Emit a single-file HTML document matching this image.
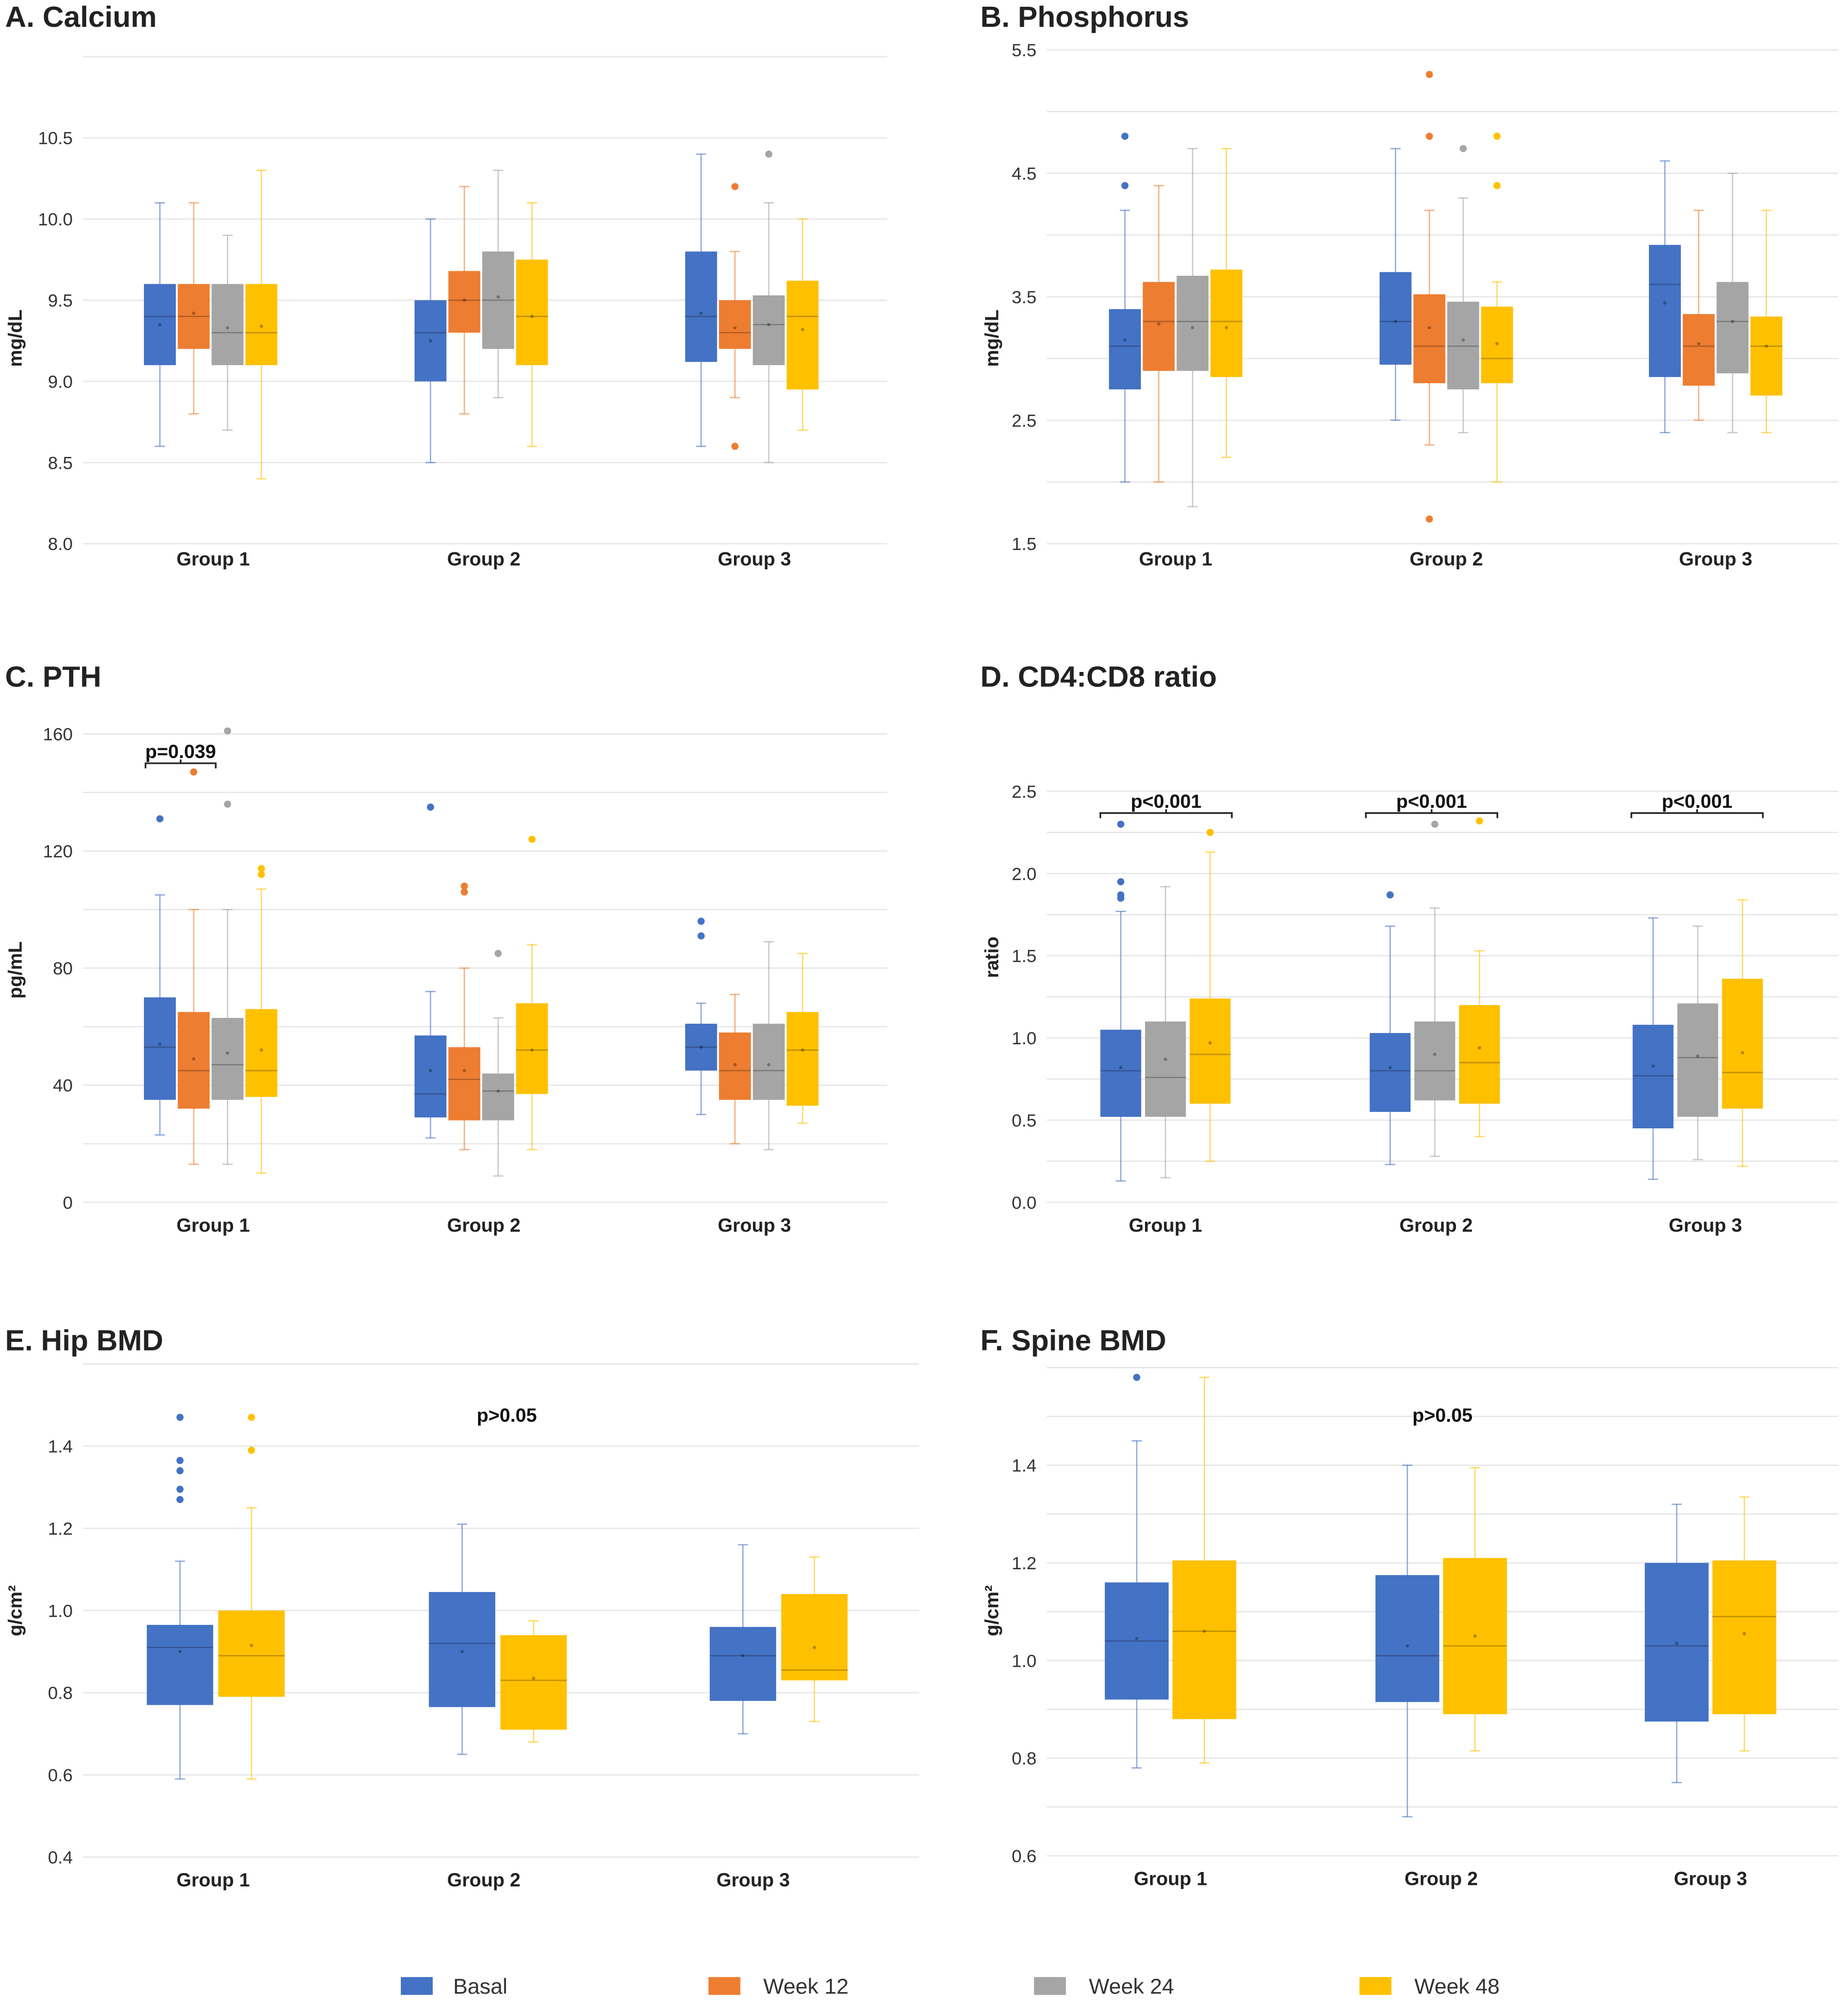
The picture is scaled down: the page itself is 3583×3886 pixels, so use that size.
<!DOCTYPE html>
<html><head><meta charset="utf-8"><style>
html,body{margin:0;padding:0;background:#fff;}
svg{display:block;font-family:"Liberation Sans",Arial,sans-serif;}
</style></head><body>
<svg id="fig" xmlns="http://www.w3.org/2000/svg" width="3583" height="3886" viewBox="0 0 1447.7 1570.1">
<rect x="0" y="0" width="1447.7" height="1570.1" fill="#fff"/>
<g id="legend">
  <g><rect x="314" y="1549" width="25" height="14" fill="#4472c4"/><text x="355" y="1562" font-size="17" fill="#333">Basal</text></g>
  <g><rect x="555" y="1549" width="25" height="14" fill="#ed7d31"/><text x="598" y="1562" font-size="17" fill="#333">Week 12</text></g>
  <g><rect x="810" y="1549" width="25" height="14" fill="#a5a5a5"/><text x="853" y="1562" font-size="17" fill="#333">Week 24</text></g>
  <g><rect x="1065" y="1549" width="25" height="14" fill="#ffc000"/><text x="1108" y="1562" font-size="17" fill="#333">Week 48</text></g>
</g>
</svg>
<script>
const NS="http://www.w3.org/2000/svg";
const svg=document.getElementById('fig');
const COL={basal:"#4472c4",w12:"#ed7d31",w24:"#a5a5a5",w48:"#ffc000"};
const groups=["Group 1","Group 2","Group 3"];

const caBasal=[[8.6,9.1,9.4,9.6,10.1,9.35],[8.5,9.0,9.3,9.5,10.0,9.25],[8.6,9.12,9.4,9.8,10.4,9.42]];
const caW12=[[8.8,9.2,9.4,9.6,10.1,9.42],[8.8,9.3,9.5,9.68,10.2,9.5],[8.9,9.2,9.3,9.5,9.8,9.33]];
const caW24=[[8.7,9.1,9.3,9.6,9.9,9.33],[8.9,9.2,9.5,9.8,10.3,9.52],[8.5,9.1,9.35,9.53,10.1,9.35]];
const caW48=[[8.4,9.1,9.3,9.6,10.3,9.34],[8.6,9.1,9.4,9.75,10.1,9.4],[8.7,8.95,9.4,9.62,10.0,9.32]];
const caOut={basal:[[],[],[]],w12:[[],[],[10.2,8.6]],w24:[[],[],[10.4]],w48:[[],[],[]]};

const phBasal=[[2.0,2.75,3.1,3.4,4.2,3.15],[2.5,2.95,3.3,3.7,4.7,3.3],[2.4,2.85,3.6,3.92,4.6,3.45]];
const phW12=[[2.0,2.9,3.3,3.62,4.4,3.28],[2.3,2.8,3.1,3.52,4.2,3.25],[2.5,2.78,3.1,3.36,4.2,3.12]];
const phW24=[[1.8,2.9,3.3,3.67,4.7,3.25],[2.4,2.75,3.1,3.46,4.3,3.15],[2.4,2.88,3.3,3.62,4.5,3.3]];
const phW48=[[2.2,2.85,3.3,3.72,4.7,3.25],[2.0,2.8,3.0,3.42,3.62,3.12],[2.4,2.7,3.1,3.34,4.2,3.1]];
const phOut={basal:[[4.8,4.4],[],[]],w12:[[],[5.3,4.8,1.7],[]],w24:[[],[4.7],[]],w48:[[],[4.8,4.4],[]]};

const pthBasal=[[23,35,53,70,105,54],[22,29,37,57,72,45],[30,45,53,61,68,53]];
const pthW12=[[13,32,45,65,100,49],[18,28,42,53,80,45],[20,35,45,58,71,47]];
const pthW24=[[13,35,47,63,100,51],[9,28,38,44,63,38],[18,35,45,61,89,47]];
const pthW48=[[10,36,45,66,107,52],[18,37,52,68,88,52],[27,33,52,65,85,52]];
const pthOut={basal:[[131],[135],[96,91]],w12:[[147],[108,106],[]],w24:[[161,136],[85],[]],w48:[[114,112],[124],[]]};

const cdBasal=[[0.13,0.52,0.8,1.05,1.77,0.82],[0.23,0.55,0.8,1.03,1.68,0.82],[0.14,0.45,0.77,1.08,1.73,0.83]];
const cdW24=[[0.15,0.52,0.76,1.1,1.92,0.87],[0.28,0.62,0.8,1.1,1.79,0.9],[0.26,0.52,0.88,1.21,1.68,0.89]];
const cdW48=[[0.25,0.6,0.9,1.24,2.13,0.97],[0.4,0.6,0.85,1.2,1.53,0.94],[0.22,0.57,0.79,1.36,1.84,0.91]];
const cdOut={basal:[[2.3,1.95,1.87,1.85],[1.87],[]],w24:[[],[2.3],[]],w48:[[2.25],[2.32],[]]};

const hipBasal=[[0.59,0.77,0.91,0.965,1.12,0.9],[0.65,0.765,0.92,1.045,1.21,0.9],[0.7,0.78,0.89,0.96,1.16,0.89]];
const hipW48=[[0.59,0.79,0.89,1.0,1.25,0.915],[0.68,0.71,0.83,0.94,0.975,0.835],[0.73,0.83,0.855,1.04,1.13,0.91]];
const hipOut={basal:[[1.47,1.365,1.34,1.295,1.27],[],[]],w48:[[1.47,1.39],[],[]]};

const spBasal=[[0.78,0.92,1.04,1.16,1.45,1.045],[0.68,0.915,1.01,1.175,1.40,1.03],[0.75,0.875,1.03,1.2,1.32,1.035]];
const spW48=[[0.79,0.88,1.06,1.205,1.58,1.06],[0.815,0.89,1.03,1.21,1.395,1.05],[0.815,0.89,1.09,1.205,1.335,1.055]];
const spOut={basal:[[1.58],[],[]],w48:[[],[],[]]};

const caTicks=["8.0","8.5","9.0","9.5","10.0","10.5"];
const phTicks=["1.5","2.5","3.5","4.5","5.5"];
const pthTicks=["0","40","80","120","160"];
const cdTicks=["0.0","0.5","1.0","1.5","2.0","2.5"];
const hipTicks=["0.4","0.6","0.8","1.0","1.2","1.4"];
const spTicks=["0.6","0.8","1.0","1.2","1.4"];

function el(tag,attrs,parent,text){const e=document.createElementNS(NS,tag);for(const k in attrs)e.setAttribute(k,attrs[k]);if(text!==undefined)e.textContent=text;(parent||svg).appendChild(e);return e;}

function panel(cfg){
  const g=el('g',{});
  
  
  const y=v=>cfg.y0+(v-cfg.v0)*(cfg.y1-cfg.y0)/(cfg.v1-cfg.v0);
  for(let v=cfg.v0;v<=cfg.gridTop+1e-9;v+=cfg.gridStep){
    const gl=el('line',{x1:cfg.xl,x2:cfg.xr,y1:y(v),y2:y(v),stroke:"#e6e6e6","stroke-width":1},g);
    
    
  }
  const title=el('text',{x:cfg.tx,y:cfg.ty,"font-size":23,fill:"#222","font-weight":"600"},g,cfg.title);
  
  
  cfg.ticks.forEach(t=>{
    const tt=el('text',{x:cfg.xl-8,y:y(parseFloat(t))+5,"font-size":14,"text-anchor":"end",fill:"#333"},g,t);
    
    
  });
  const yl=el('text',{x:0,y:0,"font-size":15,"font-weight":"bold","text-anchor":"middle",fill:"#222",transform:`translate(${cfg.ylx},${cfg.yly}) rotate(-90)`},g,cfg.ylabel);
  
  
  groups.forEach((gn,gi)=>{
    const gc=cfg.gc[gi];
    const lx=cfg.labX?cfg.labX[gi]:gc+cfg.labOff;
    const gt=el('text',{x:lx,y:cfg.y0+cfg.labDy,"font-size":15,"font-weight":"bold","text-anchor":"middle",fill:"#222"},g,gn);
    
    
    const n=cfg.series.length;
    cfg.series.forEach((s,si)=>{
      const d=s.data[gi];
      const cx=gc+(si-(n-1)/2)*cfg.step;
      const w=cfg.bw;
      const c=COL[s.key];
      const bg=el('g',{},g);
      
      
      el('line',{x1:cx,x2:cx,y1:y(d[0]),y2:y(d[4]),stroke:c,"stroke-opacity":0.6,"stroke-width":1},bg);
      el('line',{x1:cx-4,x2:cx+4,y1:y(d[0]),y2:y(d[0]),stroke:c,"stroke-opacity":0.6,"stroke-width":1},bg);
      el('line',{x1:cx-4,x2:cx+4,y1:y(d[4]),y2:y(d[4]),stroke:c,"stroke-opacity":0.6,"stroke-width":1},bg);
      el('rect',{x:cx-w/2,y:y(d[3]),width:w,height:y(d[1])-y(d[3]),fill:c},bg);
      el('line',{x1:cx-w/2,x2:cx+w/2,y1:y(d[2]),y2:y(d[2]),stroke:"#000","stroke-opacity":0.25,"stroke-width":1},bg);
      el('circle',{cx:cx,cy:y(d[5]),r:1.3,fill:"#000","fill-opacity":0.3},bg);
      (s.out[gi]||[]).forEach(o=>{
        const oc=el('circle',{cx:cx,cy:y(o),r:2.8,fill:c},g);
        
        
      });
    });
  });
  (cfg.notes||[]).forEach(nt=>{
    const ng=el('g',{},g);
    
    
    if(nt.x1!==undefined){
      const mid=(nt.x1+nt.x2)/2;
      el('path',{d:`M${nt.x1} ${nt.y+4}V${nt.y}H${nt.x2}V${nt.y+4}M${mid} ${nt.y}v-3`,fill:"none",stroke:"#222","stroke-width":1.3},ng);
      el('text',{x:mid,y:nt.y-4,"font-size":15,"font-weight":"bold","text-anchor":"middle",fill:"#111"},ng,nt.t);
    } else {
      el('text',{x:nt.x,y:nt.y,"font-size":15,"font-weight":"bold","text-anchor":"middle",fill:"#111"},ng,nt.t);
    }
  });
}

panel({name:"panel-a-calcium",title:"A. Calcium",tx:4,ty:21,xl:65,xr:695,y0:426,y1:108,v0:8.0,v1:10.5,gridStep:0.5,gridTop:11.0,ticks:caTicks,ylabel:"mg/dL",ylx:17,yly:265,gc:[165,377,589],labOff:2,labDy:17,step:26.5,bw:25,
  series:[{key:"basal",data:caBasal,out:caOut.basal},{key:"w12",data:caW12,out:caOut.w12},{key:"w24",data:caW24,out:caOut.w24},{key:"w48",data:caW48,out:caOut.w48}]});
panel({name:"panel-b-phosphorus",title:"B. Phosphorus",tx:768,ty:21,xl:820,xr:1440,y0:426,y1:39,v0:1.5,v1:5.5,gridStep:0.5,gridTop:5.5,ticks:phTicks,ylabel:"mg/dL",ylx:782,yly:265,gc:[921,1133,1344],labOff:0,labDy:17,step:26.5,bw:25,
  series:[{key:"basal",data:phBasal,out:phOut.basal},{key:"w12",data:phW12,out:phOut.w12},{key:"w24",data:phW24,out:phOut.w24},{key:"w48",data:phW48,out:phOut.w48}]});
panel({name:"panel-c-pth",title:"C. PTH",tx:4,ty:538,xl:65,xr:695,y0:942,y1:575,v0:0,v1:160,gridStep:20,gridTop:160,ticks:pthTicks,ylabel:"pg/mL",ylx:17,yly:760,gc:[165,377,589],labOff:2,labDy:23,step:26.5,bw:25,
  series:[{key:"basal",data:pthBasal,out:pthOut.basal},{key:"w12",data:pthW12,out:pthOut.w12},{key:"w24",data:pthW24,out:pthOut.w24},{key:"w48",data:pthW48,out:pthOut.w48}],
  notes:[{x1:114,x2:169,y:598,t:"p=0.039"}]});
panel({name:"panel-d-cd4-cd8",title:"D. CD4:CD8 ratio",tx:768,ty:538,xl:820,xr:1440,y0:942,y1:620,v0:0,v1:2.5,gridStep:0.25,gridTop:2.5,ticks:cdTicks,ylabel:"ratio",ylx:782,yly:750,gc:[913,1124,1330],labX:[913,1125,1336],labOff:0,labDy:23,step:35,bw:32,
  series:[{key:"basal",data:cdBasal,out:cdOut.basal},{key:"w24",data:cdW24,out:cdOut.w24},{key:"w48",data:cdW48,out:cdOut.w48}],
  notes:[{x1:862,x2:965,y:637,t:"p<0.001"},{x1:1070,x2:1173,y:637,t:"p<0.001"},{x1:1278,x2:1381,y:637,t:"p<0.001"}]});
panel({name:"panel-e-hip-bmd",title:"E. Hip BMD",tx:4,ty:1058,xl:65,xr:720,y0:1455,y1:1133,v0:0.4,v1:1.4,gridStep:0.2,gridTop:1.6,ticks:hipTicks,ylabel:"g/cm²",ylx:17,yly:1262,gc:[169,390,610],labX:[167,379,590],labOff:0,labDy:23,step:56,bw:52,
  series:[{key:"basal",data:hipBasal,out:hipOut.basal},{key:"w48",data:hipW48,out:hipOut.w48}],
  notes:[{x:397,y:1114,t:"p>0.05"}]});
panel({name:"panel-f-spine-bmd",title:"F. Spine BMD",tx:768,ty:1058,xl:820,xr:1440,y0:1454,y1:1148,v0:0.6,v1:1.4,gridStep:0.1,gridTop:1.6,ticks:spTicks,ylabel:"g/cm²",ylx:782,yly:1262,gc:[917,1129,1340],labOff:0,labDy:23,step:53,bw:50,
  series:[{key:"basal",data:spBasal,out:spOut.basal},{key:"w48",data:spW48,out:spOut.w48}],
  notes:[{x:1130,y:1114,t:"p>0.05"}]});
</script>
</body></html>
